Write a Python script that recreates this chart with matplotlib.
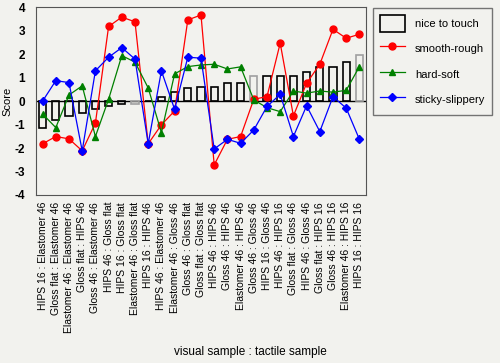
import numpy as np
import matplotlib
matplotlib.use("Agg")
import matplotlib.pyplot as plt
from matplotlib.patches import Rectangle
from matplotlib.lines import Line2D

# labels: visual sample : tactile sample
labels = [
    "HIPS 16 : Elastomer 46", "Gloss flat : Elastomer 46", "Elastomer 46 : Elastomer 46",
    "Gloss flat : HIPS 46", "Gloss 46 : Elastomer 46", "HIPS 46 : Gloss flat",
    "HIPS 16 : Gloss flat", "Elastomer 46 : Gloss flat", "HIPS 16 : HIPS 46",
    "HIPS 46 : Elastomer 46", "Elastomer 46 : Gloss 46", "Gloss 46 : Gloss flat",
    "Gloss flat : Gloss flat", "HIPS 46 : HIPS 46", "Gloss 46 : HIPS 46",
    "Elastomer 46 : HIPS 46", "Gloss 46 : Gloss 46", "HIPS 16 : Gloss 46",
    "HIPS 46 : HIPS 16", "Gloss flat : Gloss 46", "HIPS 46 : Gloss 46",
    "Gloss flat : HIPS 16", "Gloss 46 : HIPS 16", "Elastomer 46 : HIPS 16",
    "HIPS 16 : HIPS 16",
]

nice = [-1.13, -0.80, -0.62, -0.52, -0.33, -0.23, -0.13, -0.13, 0.0, 0.17,
        0.38, 0.56, 0.58, 0.58, 0.78, 0.78, 1.09, 1.09, 1.09, 1.09,
        1.26, 1.47, 1.47, 1.66, 1.97]
smooth_rough = [-1.82, -1.51, -1.61, -2.12, -0.94, 3.18, 3.58, 3.38, -1.82, -1.01,
                -0.42, 3.46, 3.67, -2.72, -1.63, -1.51, 0.08, 0.19, 2.47, -0.63,
                0.76, 1.57, 3.06, 2.68, 2.85]
hard_soft = [-0.55, -1.13, 0.26, 0.65, -1.51, 0.08, 1.94, 1.66, 0.56, -1.34,
             1.16, 1.47, 1.54, 1.57, 1.37, 1.46, 0.05, -0.28, -0.45, 0.43,
             0.34, 0.43, 0.38, 0.46, 1.47]
sticky_slippery = [0.0, 0.87, 0.79, -2.12, 1.29, 1.87, 2.28, 1.79, -1.82, 1.29,
                   -0.35, 1.87, 1.83, -2.04, -1.63, -1.80, -1.23, -0.23, 0.29, -1.51,
                   -0.20, -1.30, 0.19, -0.30, -1.63]
grey_bars = [7, 16, 24]

plt.rcParams["font.family"] = ["Liberation Sans", "DejaVu Sans"]
plt.rcParams["axes.unicode_minus"] = False
bg = "#f2f2ee"

fig = plt.figure(figsize=(5, 3.63), dpi=100, facecolor=bg)
ax = fig.add_axes([0.072, 0.463, 0.66, 0.517], facecolor=bg)

x = np.arange(len(labels))
edges = ["#a0a0a0" if i in grey_bars else "black" for i in x]
ax.bar(x, nice, width=0.55, facecolor="none", edgecolor=edges, linewidth=1.2, zorder=2)
ax.axhline(0, color="black", linewidth=1.0, zorder=1)

ax.plot(x, smooth_rough, color="#ff0000", marker="o", markersize=5, linewidth=0.9, zorder=3)
ax.plot(x, hard_soft, color="#008000", marker="^", markersize=5, linewidth=0.9, zorder=3)
ax.plot(x, sticky_slippery, color="#0000ff", marker="D", markersize=3.8, linewidth=0.9, zorder=4)

ax.set_xlim(-0.5, len(labels) - 0.5)
ax.set_ylim(-4, 4)
ax.set_yticks(range(-4, 5))
ax.set_xticks(x)
ax.set_xticklabels(labels, rotation=90, fontsize=7.5)
ax.tick_params(axis="x", length=0, pad=5)
ax.tick_params(axis="y", length=0, pad=8, labelsize=8.5)
for t in ax.get_yticklabels():
    t.set_fontweight("bold")
for s in ax.spines.values():
    s.set_color("#555555")
ax.set_ylabel("Score", fontsize=8)
ax.yaxis.set_label_coords(-0.07, 0.5)
fig.text(0.5, 0.022, "visual sample : tactile sample", ha="center", fontsize=8.5)

handles = [
    Rectangle((0, 0), 1, 1, facecolor="none", edgecolor="black", linewidth=1.2),
    Line2D([], [], color="#ff0000", marker="o", markersize=5, linewidth=0.9),
    Line2D([], [], color="#008000", marker="^", markersize=5, linewidth=0.9),
    Line2D([], [], color="#0000ff", marker="D", markersize=3.8, linewidth=0.9),
]
leg = fig.legend(handles, ["nice to touch", "smooth-rough", "hard-soft", "sticky-slippery"],
                 loc="upper left", bbox_to_anchor=(0.746, 0.978), fontsize=8,
                 frameon=True, fancybox=False, facecolor=bg, edgecolor="#555555",
                 handlelength=2.3, handleheight=2.0, labelspacing=0.75, borderpad=0.6,
                 handletextpad=0.9, borderaxespad=0)
leg.get_frame().set_linewidth(1.0)

fig.savefig("out.png", dpi=100, facecolor=bg)
